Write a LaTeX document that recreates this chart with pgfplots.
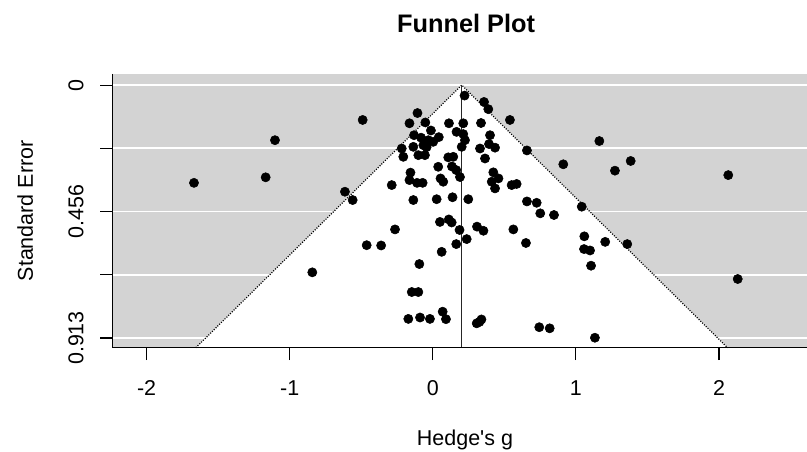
\documentclass[border=0pt]{standalone}
\usepackage{pgfplots}
\pgfplotsset{compat=1.18}
\usepackage{pgfplotstable}
\usepackage{fontspec}
\setmainfont{Liberation Sans}
\definecolor{bggray}{HTML}{D3D3D3}
\pgfplotstableread{
g se
0.222 0.038
0.358 0.061
0.388 0.087
-0.107 0.101
-0.163 0.138
-0.052 0.135
0.113 0.138
0.213 0.138
0.337 0.137
0.539 0.126
-0.013 0.164
0.166 0.169
0.213 0.177
-0.131 0.181
-0.082 0.190
-0.031 0.199
0.003 0.205
0.042 0.188
0.225 0.199
0.400 0.181
-0.136 0.223
-0.066 0.217
-0.043 0.224
0.202 0.223
0.330 0.229
0.393 0.213
0.435 0.226
-0.217 0.229
-0.206 0.259
-0.101 0.253
-0.055 0.253
0.108 0.261
0.143 0.259
0.365 0.265
0.658 0.236
0.038 0.295
0.134 0.294
0.164 0.307
0.190 0.332
-0.156 0.316
-0.163 0.343
-0.110 0.353
-0.071 0.353
-0.287 0.361
0.054 0.337
0.073 0.349
0.423 0.315
0.459 0.337
0.412 0.349
0.435 0.373
0.551 0.361
0.586 0.357
-0.136 0.415
0.027 0.412
0.138 0.405
0.248 0.412
0.658 0.420
0.726 0.425
0.751 0.463
0.847 0.469
1.041 0.439
0.050 0.494
0.112 0.485
0.132 0.496
0.187 0.523
0.309 0.511
0.354 0.526
0.563 0.521
-0.264 0.521
0.237 0.556
0.164 0.574
0.062 0.602
0.651 0.570
1.059 0.546
1.205 0.566
1.359 0.574
1.057 0.592
1.099 0.597
1.106 0.652
-0.094 0.646
-0.361 0.579
-0.462 0.578
-0.147 0.747
-0.101 0.747
-0.171 0.844
-0.089 0.839
-0.020 0.844
0.069 0.818
0.092 0.845
0.307 0.860
0.340 0.846
0.326 0.855
0.744 0.874
0.817 0.878
1.133 0.912
2.131 0.700
2.065 0.325
1.164 0.202
0.912 0.286
1.273 0.309
1.383 0.274
-1.669 0.353
-1.168 0.333
-1.103 0.199
-0.490 0.126
-0.614 0.385
-0.560 0.415
-0.842 0.676
}\studies
\begin{document}
\begin{tikzpicture}[x=0.75pt,y=0.75pt]
\begin{axis}[
  scale only axis, width=520.7pt, height=205.3pt,
  xmin=-2.237, xmax=2.615, ymin=-0.040, ymax=0.948,
  y dir=reverse,
  axis x line*=bottom, axis y line*=left,
  axis line style={black, line width=0.8pt},
  axis on top, clip=false,
  tick align=outside, major tick length=9.4pt,
  every tick/.style={black, line width=0.8pt},
  xtick={-2,-1,0,1,2}, ytick={0,0.22825,0.4565,0.68475,0.913},
  xticklabels={}, yticklabels={},
]
\coordinate (BL) at (axis cs:-2.237,0.948);
\fill[bggray] (axis cs:-2.237,-0.040) rectangle (axis cs:2.615,0.948);
\pgfplotsinvokeforeach{0,0.22825,0.4565,0.68475,0.913}{
  \draw[white, line width=1.2pt] (axis cs:-2.237,#1) -- (axis cs:2.615,#1);
}
\addplot[fill=white, draw=none] coordinates {(-1.656,0.948) (0.202,0) (2.060,0.948)} -- cycle;
\addplot[black, line width=0.9pt, dash pattern=on 0.8pt off 1.1pt] coordinates {(-1.656,0.948) (0.202,0) (2.060,0.948)};
\addplot[black!85, line width=0.8pt] coordinates {(0.202,0) (0.202,0.948)};
\addplot[only marks, mark=*, mark size=3.45pt, black] table[x=g, y=se] {\studies};
% tick labels
\pgfplotsinvokeforeach{-2,-1,0,1,2}{
  \node[anchor=base, inner sep=0pt, font=\fontsize{16.1pt}{19pt}\selectfont] at ([yshift=-35.5pt]axis cs:#1,0.948) {#1};
}
\node[rotate=90, anchor=base, inner sep=0pt, font=\fontsize{16.1pt}{19pt}\selectfont] at ([xshift=-22pt]axis cs:-2.237,0) {0};
\node[rotate=90, anchor=base, inner sep=0pt, font=\fontsize{16.1pt}{19pt}\selectfont] at ([xshift=-22pt]axis cs:-2.237,0.4565) {0.456};
\node[rotate=90, anchor=base, inner sep=0pt, font=\fontsize{16.1pt}{19pt}\selectfont] at ([xshift=-22pt]axis cs:-2.237,0.913) {0.913};
\node[rotate=90, anchor=base, inner sep=0pt, font=\fontsize{16.1pt}{19pt}\selectfont] at ([xshift=-59.8pt]axis cs:-2.237,0.454) {Standard Error};
\node[anchor=base, inner sep=0pt, font=\fontsize{16.1pt}{19pt}\selectfont] at ([yshift=-73.7pt]axis cs:0.225,0.948) {Hedge\textquotesingle s g};
\node[anchor=base, inner sep=0pt, font=\bfseries\fontsize{19pt}{22pt}\selectfont] at ([yshift=30.75pt]axis cs:0.233,-0.040) {Funnel Plot};
\end{axis}
\pgfresetboundingbox
\path[use as bounding box] (BL) ++(-112.7,-103.3) rectangle ++(807,451);
\end{tikzpicture}
\end{document}
